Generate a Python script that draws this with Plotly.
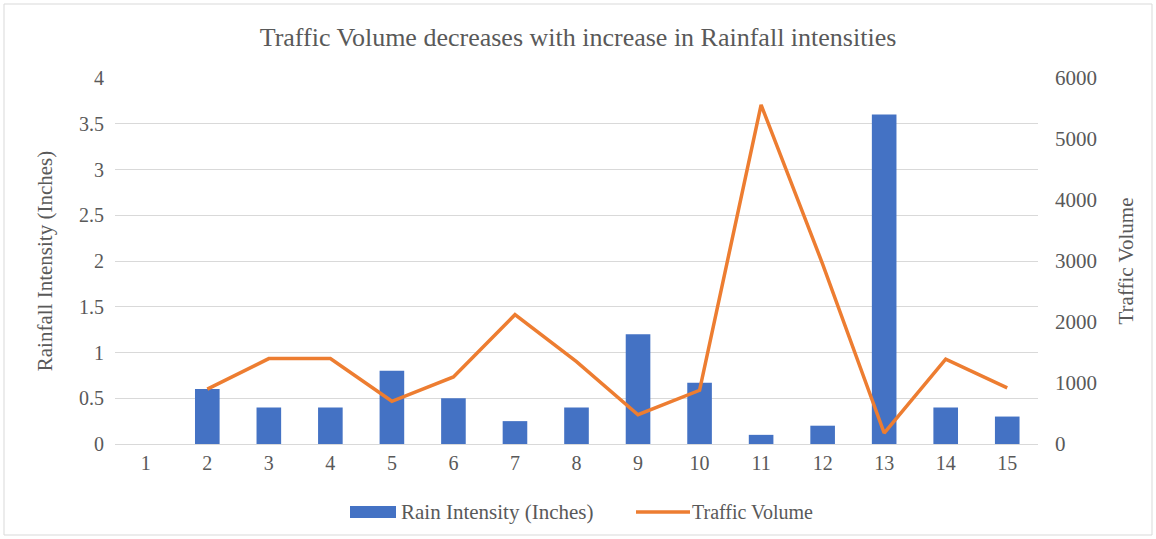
import plotly.graph_objects as go

# Observations (days 1-15)
days = [str(d) for d in range(1, 16)]
rain_inches = [0, 0.6, 0.4, 0.4, 0.8, 0.5, 0.25, 0.4, 1.2, 0.67, 0.1, 0.2, 3.6, 0.4, 0.3]
traffic_volume = [None, 900, 1400, 1400, 700, 1100, 2120, 1350, 480, 880, 5560, 2950, 180, 1390, 920]

left_ticks = [0, 0.5, 1, 1.5, 2, 2.5, 3, 3.5, 4]
left_tick_text = ["0", "0.5", "1", "1.5", "2", "2.5", "3", "3.5", "4"]
right_ticks = [0, 1000, 2000, 3000, 4000, 5000, 6000]

FONT = "Liberation Serif, Times New Roman, serif"
GREY = "#595959"
GRID = "#D9D9D9"
BLUE = "#4472C4"
ORANGE = "#ED7D31"

# plot area in pixels (used to place the legend key in paper units)
W, H = 1156, 539
ML, MR, MT, MB = 115, 118, 78, 95
PW, PH = W - ML - MR, H - MT - MB


def px_x(px):
    return (px - ML) / PW


def px_y(py):
    return (H - MB - py) / PH


fig = go.Figure()
fig.add_trace(go.Bar(
    x=days, y=rain_inches, name="Rain Intensity (Inches)",
    marker=dict(color=BLUE, line=dict(width=0)),
    yaxis="y", showlegend=False,
))
fig.add_trace(go.Scatter(
    x=days, y=traffic_volume, name="Traffic Volume", mode="lines",
    line=dict(color=ORANGE, width=3.5),
    connectgaps=False,
    yaxis="y2", showlegend=False,
))

# legend key: wide bar swatch and a line swatch, each followed by its label
legend_y = 512
shapes = [
    dict(type="rect", xref="paper", yref="paper",
         x0=px_x(4), x1=px_x(1152), y0=px_y(535), y1=px_y(4),
         line=dict(color=GRID, width=1), layer="below"),
    dict(type="rect", xref="paper", yref="paper",
         x0=px_x(350), x1=px_x(396), y0=px_y(legend_y + 6), y1=px_y(legend_y - 6),
         fillcolor=BLUE, line=dict(width=0)),
    dict(type="line", xref="paper", yref="paper",
         x0=px_x(636), x1=px_x(690), y0=px_y(legend_y), y1=px_y(legend_y),
         line=dict(color=ORANGE, width=3.5)),
]
annotations = [
    dict(text="Rain Intensity (Inches)", xref="paper", yref="paper",
         x=px_x(399), y=px_y(legend_y), xanchor="left", yanchor="middle",
         showarrow=False, font=dict(size=21, color=GREY)),
    dict(text="Traffic Volume", xref="paper", yref="paper",
         x=px_x(690), y=px_y(legend_y), xanchor="left", yanchor="middle",
         showarrow=False, font=dict(size=20, color=GREY)),
]

fig.update_layout(
    width=W, height=H,
    margin=dict(l=ML, r=MR, t=MT, b=MB, autoexpand=False),
    paper_bgcolor="white", plot_bgcolor="white",
    font=dict(family=FONT, color=GREY, size=20),
    bargap=0.6,
    showlegend=False,
    title=dict(
        text="Traffic Volume decreases with increase in Rainfall intensities",
        x=0.5, xanchor="center", y=0.932, yanchor="middle",
        font=dict(family=FONT, size=26, color=GREY),
    ),
    xaxis=dict(
        type="category", showgrid=False, zeroline=False,
        showline=False, ticks="", tickfont=dict(size=20, color=GREY),
        ticklabelstandoff=5,
    ),
    yaxis=dict(
        range=[0, 4], tickvals=left_ticks, ticktext=left_tick_text,
        showgrid=True, gridcolor=GRID, gridwidth=1,
        zeroline=True, zerolinecolor=GRID, zerolinewidth=1,
        showline=False, ticks="", ticklabelstandoff=10,
        tickfont=dict(size=20, color=GREY),
        title=dict(text="Rainfall Intensity (Inches)", standoff=20,
                   font=dict(size=21, color=GREY)),
    ),
    yaxis2=dict(
        range=[0, 6000], tickvals=right_ticks, overlaying="y", side="right",
        showgrid=False, zeroline=False, showline=False, ticks="",
        ticklabelstandoff=16, tickfont=dict(size=21, color=GREY),
        title=dict(text="Traffic Volume", standoff=22,
                   font=dict(size=21, color=GREY)),
    ),
    shapes=shapes,
    annotations=annotations,
)

fig.write_html("out.html")
